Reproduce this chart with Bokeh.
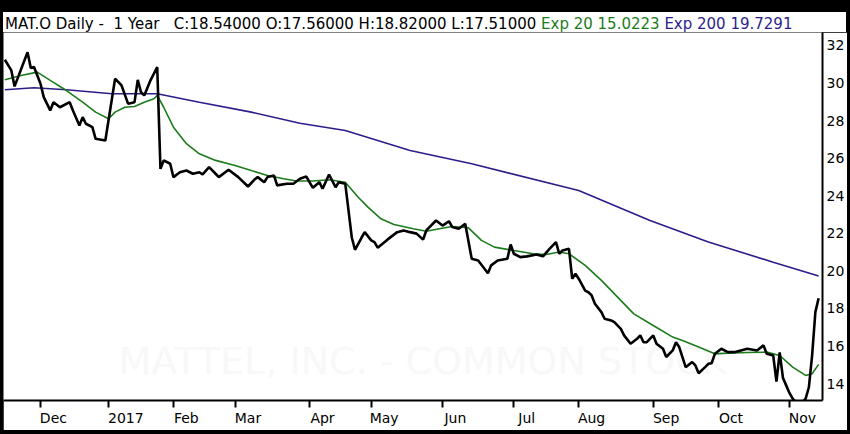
from bokeh.plotting import figure
from bokeh.layouts import column
from bokeh.models import FixedTicker, LinearAxis, Range1d, Label, Div
from bokeh.embed import file_html
from bokeh.resources import INLINE

# trading-day index (0 = 14 Nov 2016) and daily close of MAT.O
close_day = [1, 3, 4, 8, 9, 10, 12, 13, 15, 16, 18, 21, 22, 24, 25, 26, 28, 29, 32,
             35, 37, 39, 41, 42, 43, 44, 46, 48, 49, 50, 52, 53, 55, 57, 59, 61, 62,
             64, 66, 67, 70, 73, 76, 78, 79, 81, 82, 84, 85, 88, 90, 92, 94, 96, 98,
             99, 101, 103, 104, 106, 108, 109, 111, 112, 114, 115, 116, 119, 122, 124,
             126, 128, 130, 131, 134, 136, 138, 139, 141, 143, 145, 147, 150, 151, 153,
             156, 157, 158, 160, 162, 165, 167, 169, 171, 172, 173, 175, 176, 177, 178,
             180, 181, 182, 183, 185, 186, 188, 189, 191, 192, 194, 196, 197, 198, 199,
             201, 202, 204, 205, 207, 208, 209, 211, 213, 214, 215, 217, 218, 219, 220,
             222, 224, 226, 228, 230, 233, 235, 236, 238, 239, 240, 241, 242, 243, 244,
             245, 247, 248, 249, 250, 251, 252]
close_val = [31.24, 30.67, 29.82, 31.64, 30.80, 30.85, 29.96, 29.25, 28.54, 28.98, 28.71,
             28.98, 28.54, 27.74, 28.18, 27.83, 27.65, 27.03, 26.94,
             30.23, 29.87, 28.90, 28.98, 30.17, 29.51, 29.34, 30.17, 30.85, 25.43, 25.88,
             25.70, 24.99, 25.25, 25.34, 25.17, 25.25, 25.13,
             25.52, 25.17, 24.99, 25.38, 24.99, 24.49, 24.86, 24.99, 24.72, 24.99, 25.08,
             24.55, 24.64, 24.64, 24.90, 25.02, 24.42, 24.72,
             24.37, 25.13, 24.45, 24.72, 24.64, 21.79, 21.12, 21.76, 22.06, 21.62, 21.53,
             21.23, 21.66, 22.06, 22.15,
             22.06, 21.98, 21.66, 22.15, 22.68, 22.41, 22.64, 22.33, 22.24, 22.51, 20.64,
             20.55, 19.87, 20.29, 20.55,
             20.64, 21.40, 20.91, 20.73, 20.77, 20.87, 20.77, 21.17, 21.53, 20.91, 21.08,
             21.17, 19.58, 19.84, 19.58,
             18.95, 18.86, 18.69, 18.25, 17.80, 17.45, 17.36, 17.27, 16.91, 16.56, 16.12,
             16.38, 16.56, 16.20, 16.20,
             16.56, 16.12, 15.85, 15.41, 15.76, 16.20, 15.94, 14.87, 15.14, 14.96, 14.55,
             14.87, 15.05, 15.08, 15.58,
             15.85, 15.67, 15.67, 15.76, 15.85, 15.76, 16.03, 15.58, 15.49, 14.10, 15.65,
             14.30, 13.90, 13.50, 13.20,
             13.00, 13.00, 13.20, 13.80, 15.50, 17.80, 18.54]

ema20_day = [1, 6, 11, 15, 20, 25, 29, 33, 35, 38, 41, 44, 47, 48, 50, 53, 57, 61, 66,
             72, 77, 82, 87, 91, 96, 101, 106, 110, 113, 117, 121, 127, 131, 135, 139,
             144, 148, 152, 158, 164, 168, 172, 175, 180, 185, 190, 195, 201, 207, 210,
             215, 220, 224, 230, 236, 240, 244, 248, 250, 252]
ema20_val = [30.17, 30.40, 30.58, 30.14, 29.60, 28.98, 28.45, 28.10, 28.45, 28.71, 28.75,
             28.98, 29.16, 29.34, 28.71, 27.65, 26.77, 26.23, 25.88,
             25.61, 25.34, 25.08, 24.90, 24.78, 24.78, 24.85, 24.72, 23.92, 23.39, 22.77,
             22.47, 22.24, 22.11, 22.24, 22.36,
             22.29, 21.62, 21.26, 21.08, 20.91, 20.87, 21.00, 20.91, 20.29, 19.49, 18.60,
             17.71, 17.09, 16.47, 16.29,
             15.94, 15.58, 15.62, 15.65, 15.67, 15.49, 14.87, 14.43, 14.52, 15.02]

ema200_day = [1, 10, 20, 34, 48, 61, 77, 92, 106, 126, 145, 178, 200, 218, 238, 252]
ema200_val = [29.64, 29.75, 29.64, 29.43, 29.43, 28.98, 28.45, 27.86, 27.47, 26.41, 25.70,
              24.28, 22.68, 21.53, 20.46, 19.73]

month_day = [12, 33, 53, 72, 95, 114, 136, 158, 178, 201, 221, 243]
month_name = ["Dec", "2017", "Feb", "Mar", "Apr", "May", "Jun", "Jul", "Aug", "Sep",
              "Oct", "Nov"]
price_ticks = [14, 16, 18, 20, 22, 24, 26, 28, 30, 32]

FONT = "DejaVu Sans"
GREEN = "#1c7c1c"
PURPLE = "#2c1e8a"
FRAME_W, FRAME_H = 819, 368
X0, X1 = 0.586, 253.2

p = figure(frame_width=FRAME_W, frame_height=FRAME_H, x_range=Range1d(X0, X1),
           y_range=Range1d(13.095, 32.69), y_axis_location="right",
           toolbar_location=None, output_backend="svg",
           min_border_left=0, min_border_right=24, min_border_top=0,
           min_border_bottom=30)
p.outline_line_color = None
p.xgrid.visible = False
p.ygrid.visible = False

# watermark behind the lines
p.add_layout(Label(x=115, y=18, x_units="screen", y_units="screen",
                   text="MATTEL, INC. - COMMON STOCK", text_font=FONT,
                   text_font_size="38px", text_color="#f8f8f8", level="underlay"))

p.line(ema200_day, ema200_val, line_color=PURPLE, line_width=1.6)
p.line(ema20_day, ema20_val, line_color=GREEN, line_width=1.6)
p.line(close_day, close_val, line_color="black", line_width=2.6)

# right price axis
ya = p.yaxis[0]
ya.ticker = FixedTicker(ticks=price_ticks)
ya.major_tick_out = 0
ya.major_tick_in = 0
ya.minor_tick_out = 0
ya.minor_tick_in = 0
ya.axis_line_width = 2
ya.major_label_standoff = 4
ya.major_label_text_font = FONT
ya.major_label_text_font_size = "14px"
ya.major_label_text_color = "black"

# bottom axis: tick marks only
xa = p.xaxis[0]
xa.ticker = FixedTicker(ticks=month_day)
xa.major_label_overrides = {d: "" for d in month_day}
xa.major_label_text_font_size = "0px"
xa.major_label_standoff = 0
xa.major_tick_out = 7
xa.major_tick_in = 0
xa.minor_tick_out = 0
xa.minor_tick_in = 0
xa.major_tick_line_width = 2
xa.axis_line_width = 2

# month names sit to the right of each tick
px_per_day = FRAME_W / (X1 - X0)
label_pos = [d + 0.5 * 8.6 * len(n) / px_per_day for d, n in zip(month_day, month_name)]
la = LinearAxis(ticker=FixedTicker(ticks=label_pos),
                major_label_overrides={x: n for x, n in zip(label_pos, month_name)})
la.axis_line_color = None
la.major_tick_line_color = None
la.minor_tick_line_color = None
la.major_tick_out = 0
la.major_tick_in = 0
la.minor_tick_out = 0
la.minor_tick_in = 0
la.major_label_standoff = 2
la.major_label_text_font = FONT
la.major_label_text_font_size = "14px"
la.major_label_text_color = "black"
p.add_layout(la, "below")

# header line above the chart
header_html = (
    '<span style="color:black">MAT.O Daily -  1 Year   '
    'C:18.54000 O:17.56000 H:18.82000 L:17.51000</span> '
    f'<span style="color:{GREEN}">Exp 20 15.0223</span> '
    f'<span style="color:{PURPLE}">Exp 200 19.7291</span>'
)
header = Div(text=header_html, width=843, height=20, margin=0,
             styles={"background-color": "white", "font-family": FONT,
                     "font-size": "15px", "white-space": "pre", "line-height": "17px",
                     "padding": "4px 0 0 2px", "box-sizing": "border-box",
                     "overflow": "hidden"})

# black window frame around the chart
page = column(header, p, spacing=0,
              styles={"background-color": "black", "padding": "12px 4px 4px 3px"})

open("out.html", "w").write(file_html(page, INLINE))
